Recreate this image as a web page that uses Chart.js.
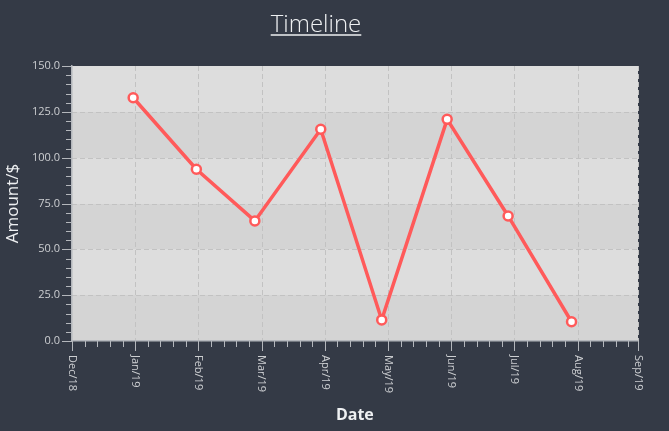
<!DOCTYPE html>
<html>
<head>
<meta charset="utf-8">
<script src="https://cdn.jsdelivr.net/npm/chart.js@4/dist/chart.umd.min.js"></script>
<style>
  html, body { margin: 0; padding: 0; background: #343a46; }
  #wrap { width: 669px; height: 431px; position: relative; }
</style>
</head>
<body>
<div id="wrap"><canvas id="c" width="669" height="431"></canvas></div>
<script>
// ---- data ----
const chartTitle = 'Timeline';
const xAxisTitle = 'Date';
const yAxisTitle = 'Amount/$';
const monthLabels = ['Dec/18','Jan/19','Feb/19','Mar/19','Apr/19','May/19','Jun/19','Jul/19','Aug/19','Sep/19'];
const dates = ['2018-12-31','2019-01-31','2019-02-26','2019-03-30','2019-04-28','2019-05-30','2019-06-28','2019-07-29'];
const amounts = [132.7, 93.7, 65.5, 115.5, 11.5, 120.9, 68.2, 10.5];
const yMin = 0, yMax = 150, yMajor = 25, yMinor = 5;
const axisEnd = 8.95; // month-axis end (Sep/19 tick)

// date -> fractional month index from Dec 2018
function monthPos(s) {
  const [y, m, d] = s.split('-').map(Number);
  const idx = (y - 2018) * 12 + (m - 1) - 11;
  const dim = new Date(y, m, 0).getDate();
  return idx + (d - 1) / dim;
}
const points = dates.map((d, i) => ({ x: monthPos(d), y: amounts[i] }));
const majorX = monthLabels.map((_, i) => Math.min(i, axisEnd));

const TICK_COLOR = '#b4b7bc';
const LABEL_COLOR = '#cdcfd2';

const decor = {
  id: 'decor',
  beforeDraw(chart) {
    const { ctx, chartArea: a, scales: { x, y } } = chart;
    ctx.save();
    // alternating bands
    for (let v = yMin; v < yMax; v += yMajor) {
      const band = Math.round((v - yMin) / yMajor);
      ctx.fillStyle = band % 2 === 0 ? '#d4d4d4' : '#dddddd';
      const y1 = Math.round(y.getPixelForValue(v)), y2 = Math.round(y.getPixelForValue(v + yMajor));
      ctx.fillRect(Math.round(a.left), y2, Math.round(a.right) - Math.round(a.left), y1 - y2);
    }
    // dashed grid
    ctx.strokeStyle = '#c2c2c2';
    ctx.lineWidth = 1;
    ctx.setLineDash([5, 3]);
    for (let v = yMin + yMajor; v < yMax; v += yMajor) {
      const py = Math.round(y.getPixelForValue(v)) + 0.5;
      ctx.beginPath(); ctx.moveTo(a.left, py); ctx.lineTo(a.right, py); ctx.stroke();
    }
    majorX.forEach((v, i) => {
      if (i === 0) return;
      const px = Math.round(x.getPixelForValue(v)) + 0.5;
      ctx.beginPath(); ctx.moveTo(px, a.top); ctx.lineTo(px, a.bottom); ctx.stroke();
    });
    ctx.restore();
  },
  afterDraw(chart) {
    const { ctx, chartArea: a, scales: { x, y } } = chart;
    ctx.save();
    ctx.strokeStyle = TICK_COLOR;
    ctx.lineWidth = 1;
    // y ticks
    for (let v = yMin; v <= yMax + 1e-9; v += yMinor) {
      const py = Math.round(y.getPixelForValue(v)) + 0.5;
      const len = (Math.round(v) % yMajor === 0) ? 10 : 6;
      ctx.beginPath(); ctx.moveTo(a.left - len, py); ctx.lineTo(a.left, py); ctx.stroke();
    }
    // x ticks
    majorX.forEach((v) => {
      const px = Math.round(x.getPixelForValue(v)) + 0.5;
      ctx.beginPath(); ctx.moveTo(px, a.bottom); ctx.lineTo(px, a.bottom + 10); ctx.stroke();
    });
    for (let i = 0; i < monthLabels.length - 1; i++) {
      for (let k = 1; k < 5; k++) {
        const v = i + k / 5;
        if (v >= axisEnd) continue;
        const px = Math.round(x.getPixelForValue(v)) + 0.5;
        ctx.beginPath(); ctx.moveTo(px, a.bottom); ctx.lineTo(px, a.bottom + 6); ctx.stroke();
      }
    }
    // x labels, rotated clockwise
    ctx.fillStyle = LABEL_COLOR;
    ctx.font = '11px "Open Sans"';
    ctx.textAlign = 'left';
    ctx.textBaseline = 'middle';
    majorX.forEach((v, i) => {
      const px = x.getPixelForValue(v);
      ctx.save();
      ctx.translate(px, a.bottom + 14);
      ctx.rotate(Math.PI / 2);
      ctx.fillText(monthLabels[i], 0, 0);
      ctx.restore();
    });
    // title with underline
    ctx.fillStyle = '#eef0f2';
    ctx.font = '300 24px "Open Sans"';
    ctx.textAlign = 'center';
    ctx.textBaseline = 'alphabetic';
    const cx = 316, by = 32;
    ctx.fillText(chartTitle, cx, by);
    const w = ctx.measureText(chartTitle).width;
    ctx.strokeStyle = '#eef0f2';
    ctx.lineWidth = 1.5;
    ctx.beginPath(); ctx.moveTo(cx - w / 2, by + 3); ctx.lineTo(cx + w / 2, by + 3); ctx.stroke();
    ctx.restore();
  }
};

new Chart(document.getElementById('c'), {
  type: 'line',
  data: {
    datasets: [{
      data: points,
      borderColor: '#ff5a5a',
      borderWidth: 3.5,
      pointRadius: 4.5,
      pointBorderWidth: 2.5,
      pointBackgroundColor: '#ffffff',
      pointBorderColor: '#ff5a5a',
      tension: 0,
      clip: false
    }]
  },
  options: {
    responsive: false,
    animation: false,
    layout: { padding: { left: 0, top: 66, right: 31.3, bottom: 0 } },
    plugins: { legend: { display: false }, title: { display: false }, tooltip: { enabled: false } },
    scales: {
      x: {
        type: 'linear',
        min: 0,
        max: axisEnd,
        afterBuildTicks: (s) => { s.ticks = majorX.map(v => ({ value: v })); },
        afterFit: (s) => { s.height = 90; },
        ticks: { display: false },
        grid: { display: false, drawTicks: false },
        border: { display: true, color: TICK_COLOR, width: 1.5 },
        title: {
          display: true, text: xAxisTitle, color: '#eef0f2',
          font: { family: 'Open Sans', size: 16, weight: 'bold' },
          padding: { top: 0, bottom: 6 }
        }
      },
      y: {
        min: yMin,
        max: yMax,
        afterFit: (s) => { s.width = 72; },
        ticks: {
          stepSize: yMajor,
          color: LABEL_COLOR,
          font: { family: 'Open Sans', size: 11 },
          padding: 12,
          callback: (v) => Number(v).toFixed(1)
        },
        grid: { display: false, drawTicks: false },
        border: { display: true, color: TICK_COLOR, width: 1.5 },
        title: {
          display: true, text: yAxisTitle, color: '#eef0f2',
          font: { family: 'Open Sans', size: 17 },
          padding: { top: 3, bottom: 0 }
        }
      }
    }
  },
  plugins: [decor]
});
</script>
</body>
</html>
